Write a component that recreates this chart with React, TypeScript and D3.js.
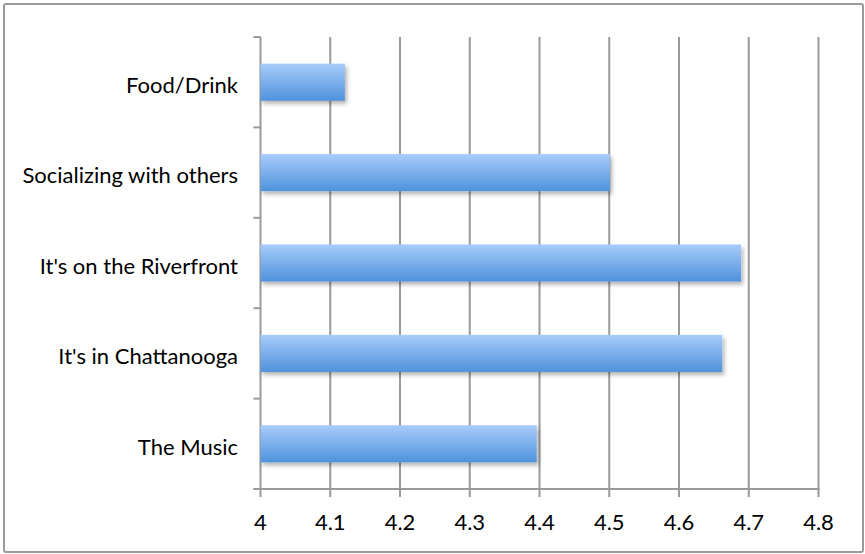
import React from "react";
import * as d3 from "d3";

const categories = ["Food/Drink", "Socializing with others", "It's on the Riverfront", "It's in Chattanooga", "The Music"];
const values = [4.121, 4.501, 4.689, 4.662, 4.396];
const xTicks = [4, 4.1, 4.2, 4.3, 4.4, 4.5, 4.6, 4.7, 4.8];

const W = 865;
const H = 554;
const left = 260.5;
const right = 818.5;
const top = 37;
const bottom = 489;

export default function App() {
  const x = d3.scaleLinear().domain([4, 4.8]).range([left, right]);
  const y = d3.scaleBand<string>().domain(categories).range([top, bottom]).paddingInner(0.59).paddingOuter(0.295);
  const band = (bottom - top) / categories.length;
  const font = "Lato, 'Open Sans', sans-serif";
  const grid = "#9a9a9a";

  return (
    <svg width={W} height={H} style={{ position: "absolute", left: 0, top: 0 }}>
      <defs>
        <linearGradient id="barFill" x1="0" y1="0" x2="0" y2="1">
          <stop offset="0%" stopColor="#a8ccfb" />
          <stop offset="100%" stopColor="#4f92dc" />
        </linearGradient>
        <filter id="shadow" x="-10%" y="-30%" width="120%" height="180%">
          <feDropShadow dx="2" dy="3" stdDeviation="2" floodColor="#000" floodOpacity="0.3" />
        </filter>
      </defs>
      <rect x={4} y={4} width={859} height={548} fill="#fff" stroke="#9a9a9a" strokeWidth={2} rx={2} />

      {/* vertical gridlines with tick stubs below the axis */}
      {xTicks.map((t) => (
        <line key={t} x1={x(t)} x2={x(t)} y1={top} y2={bottom + 8} stroke={grid} strokeWidth={2} />
      ))}
      {/* category axis ticks */}
      {d3.range(categories.length + 1).map((i) => (
        <line key={i} x1={left - 7} x2={left} y1={top + i * band} y2={top + i * band} stroke={grid} strokeWidth={2} />
      ))}
      <line x1={left - 7} x2={right + 1} y1={bottom} y2={bottom} stroke={grid} strokeWidth={2} />

      {categories.map((c, i) => (
        <rect
          key={c}
          x={x(4)}
          y={y(c)}
          width={x(values[i]) - x(4)}
          height={y.bandwidth()}
          fill="url(#barFill)"
          filter="url(#shadow)"
        />
      ))}

      {categories.map((c) => (
        <text
          key={c}
          x={238}
          y={(y(c) as number) + y.bandwidth() / 2 + 10.8}
          textAnchor="end"
          fontFamily={font}
          fontSize={22}
          fill="#000"
        >
          {c}
        </text>
      ))}
      {xTicks.map((t) => (
        <text
          key={t}
          x={x(t)}
          y={530}
          textAnchor="middle"
          fontFamily={font}
          fontSize={22}
          fill="#000"
        >
          {d3.format("")(t)}
        </text>
      ))}
    </svg>
  );
}
